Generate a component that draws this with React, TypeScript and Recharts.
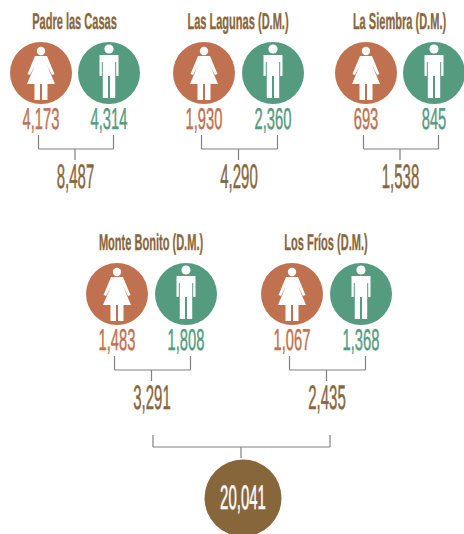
import React from "react";
import { ComposedChart, XAxis, YAxis, Scatter, ReferenceLine } from "recharts";

// ---- values ----
const municipalities = ["Padre las Casas", "Las Lagunas (D.M.)", "La Siembra (D.M.)", "Monte Bonito (D.M.)", "Los Fríos (D.M.)"];
const women = [4173, 1930, 693, 1483, 1067];
const men = [4314, 2360, 845, 1808, 1368];
const totals = [8487, 4290, 1538, 3291, 2435];
const grandTotal = 20041;

// ---- layout (slots on the infographic grid) ----
const WIDTH = 464;
const HEIGHT = 534;
const womanSlotX = [41, 204, 366, 117, 292];
const manSlotX = [109, 273, 434, 186, 361];
const rowCircleY = [73, 73, 73, 294, 294];
const RADIUS = 31;
const WOMAN = "#C0714F";
const MAN = "#559B7F";
const BROWN = "#88663C";
const GREY = "#808080";
const FONT = "'Liberation Sans Narrow', 'Liberation Sans', sans-serif";

const fmt = (n: number) => n.toLocaleString("en-US");

const Condensed = ({ x, y, size, fill, bold, sx, children }: any) => (
  <text
    transform={`translate(${x},${y}) scale(${sx},1)`}
    textAnchor="middle"
    dominantBaseline="central"
    textRendering="geometricPrecision"
    fontFamily={FONT}
    fontSize={size}
    fontWeight={bold ? 700 : 400}
    fill={fill}
    stroke={fill}
    strokeWidth={bold ? 0.3 : 0.5}
  >
    {children}
  </text>
);

const WomanIcon = () => (
  <g fill="#fff">
    <circle cx={0} cy={-22} r={4.2} />
    <path d="M-6,-17 L6,-17 L13.5,1 L11,2 L6,-8 L14,11 L6.5,11 L6.5,27 L1,27 L1,11 L-1,11 L-1,27 L-6.5,27 L-6.5,11 L-14,11 L-6,-8 L-11,2 L-13.5,1 Z" />
  </g>
);
const ManIcon = () => (
  <g fill="#fff">
    <circle cx={0} cy={-24} r={4.6} />
    <path d="M-9.5,-18 L9.5,-18 L9.5,3 L7.2,3 L7.2,-11 L6.2,-11 L6.2,25 L1,25 L1,3 L-1,3 L-1,25 L-6.2,25 L-6.2,-11 L-7.2,-11 L-7.2,3 L-9.5,3 Z" />
  </g>
);

const PersonShape = (props: any) => {
  const { cx, cy, payload } = props;
  const isWoman = payload.kind === "w";
  const color = isWoman ? WOMAN : MAN;
  return (
    <g>
      <circle cx={cx} cy={cy} r={RADIUS} fill={color} />
      <g transform={`translate(${cx},${cy})`}>{isWoman ? <WomanIcon /> : <ManIcon />}</g>
      <Condensed x={cx} y={cy + 46} size={30} fill={color} sx={0.49}>
        {fmt(payload.value)}
      </Condensed>
    </g>
  );
};

const TotalShape = (props: any) => {
  const { cx, cy, payload } = props;
  return (
    <Condensed x={cx} y={cy} size={34} fill={BROWN} sx={0.44}>
      {fmt(payload.value)}
    </Condensed>
  );
};

const TitleShape = (props: any) => {
  const { cx, cy, payload } = props;
  return (
    <Condensed x={cx} y={cy} size={23} fill={BROWN} bold sx={0.48}>
      {payload.name}
    </Condensed>
  );
};

const GrandShape = (props: any) => {
  const { cx, cy, payload } = props;
  return (
    <g>
      <circle cx={cx} cy={cy} r={38.5} fill={BROWN} />
      <Condensed x={cx} y={cy} size={34} fill="#fff" sx={0.44}>
        {fmt(payload.value)}
      </Condensed>
    </g>
  );
};

const womanPoints = women.map((value, i) => ({ x: womanSlotX[i], y: rowCircleY[i], value, kind: "w" }));
const manPoints = men.map((value, i) => ({ x: manSlotX[i], y: rowCircleY[i], value, kind: "m" }));
const midX = (i: number) => (womanSlotX[i] + manSlotX[i]) / 2;
const totalPoints = totals.map((value, i) => ({ x: midX(i) + 0.5, y: rowCircleY[i] + 104, value }));
const titlePoints = municipalities.map((name, i) => ({ x: midX(i) - 0.5, y: rowCircleY[i] - 52, name }));
const grandPoints = [{ x: 243, y: 498, value: grandTotal }];

const bracket = (l: number, r: number, top: number, bot: number, stemX: number, stemEnd: number) => [
  [[l, top], [l, bot]],
  [[r, top], [r, bot]],
  [[l, bot], [r, bot]],
  [[stemX, bot], [stemX, stemEnd]],
];

const brackets = [
  ...womanSlotX.flatMap((wx, i) =>
    bracket(wx - 2.5, manSlotX[i] + 4.5, rowCircleY[i] + 62, rowCircleY[i] + 76, midX(i), rowCircleY[i] + 87)
  ),
  ...bracket(153, 330, 435, 447, 241, 458),
] as [number, number][][];

export default function App() {
  return (
    <div style={{ position: "absolute", left: 0, top: 0, width: WIDTH, height: HEIGHT }}>
      <ComposedChart width={WIDTH} height={HEIGHT} margin={{ top: 0, right: 0, bottom: 0, left: 0 }}>
        <XAxis type="number" dataKey="x" domain={[0, WIDTH]} hide />
        <YAxis type="number" dataKey="y" domain={[0, HEIGHT]} reversed hide />
        {brackets.map((s, i) => (
          <ReferenceLine
            key={i}
            segment={[
              { x: s[0][0], y: s[0][1] },
              { x: s[1][0], y: s[1][1] },
            ]}
            stroke={GREY}
            strokeWidth={1.2}
            ifOverflow="visible"
          />
        ))}
        <Scatter data={womanPoints} dataKey="y" shape={PersonShape} isAnimationActive={false} />
        <Scatter data={manPoints} dataKey="y" shape={PersonShape} isAnimationActive={false} />
        <Scatter data={totalPoints} dataKey="y" shape={TotalShape} isAnimationActive={false} />
        <Scatter data={titlePoints} dataKey="y" shape={TitleShape} isAnimationActive={false} />
        <Scatter data={grandPoints} dataKey="y" shape={GrandShape} isAnimationActive={false} />
      </ComposedChart>
    </div>
  );
}
